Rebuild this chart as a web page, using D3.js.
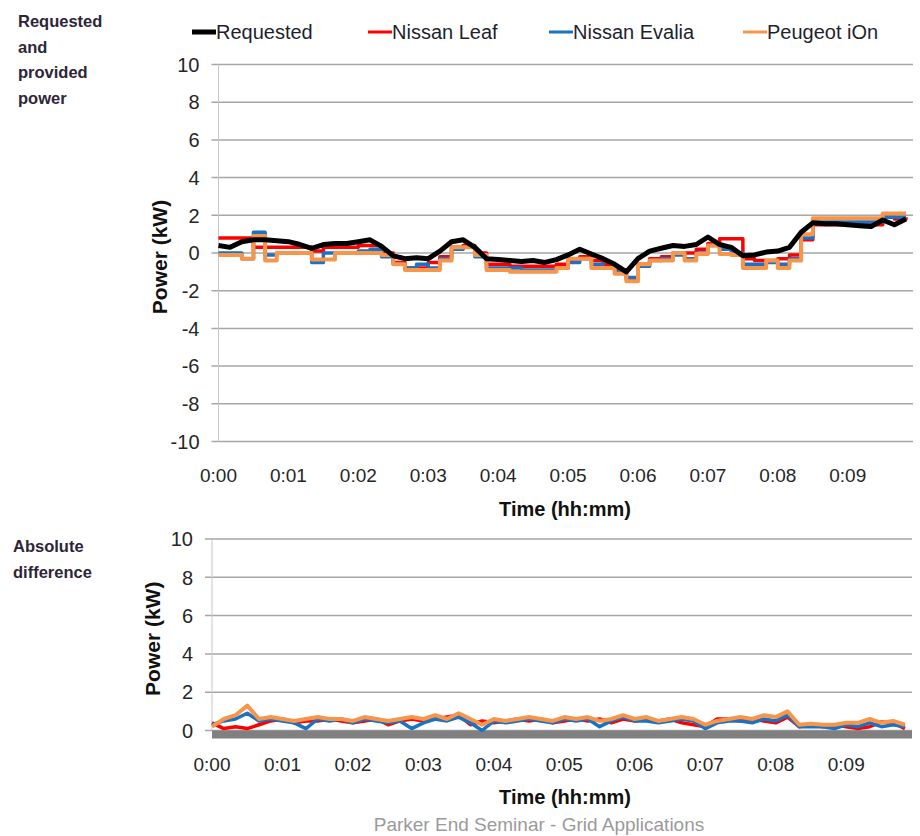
<!DOCTYPE html>
<html>
<head>
<meta charset="utf-8">
<script src="https://cdn.jsdelivr.net/npm/d3@7"></script>
<style>
  body { margin: 0; background: #fff; }
  svg { display: block; font-family: "Liberation Sans", Arial, sans-serif; }
</style>
</head>
<body>
<svg id="chart" width="920" height="836"></svg>
<script>
// one sample every 10 seconds
const stepSeconds = 10;

const requested = [0.4, 0.3, 0.6, 0.7, 0.7, 0.65, 0.6, 0.45, 0.25, 0.45,
  0.5, 0.5, 0.6, 0.7, 0.35, -0.15, -0.3, -0.25, -0.3, 0.1,
  0.6, 0.7, 0.3, -0.3, -0.35, -0.4, -0.45, -0.4, -0.5, -0.35,
  -0.1, 0.2, -0.05, -0.3, -0.6, -1.0, -0.3, 0.1, 0.25, 0.4,
  0.35, 0.45, 0.85, 0.45, 0.3, -0.15, -0.1, 0.05, 0.1, 0.3,
  1.1, 1.6, 1.55, 1.55, 1.5, 1.45, 1.4, 1.75, 1.5, 1.8];

const nissanLeaf = [0.8, 0.8, 0.8, 0.3, 0.3, 0.3, 0.3, 0.3, 0.1, 0.3,
  0.3, 0.3, 0.4, 0.4, 0.0, -0.5, -0.8, -0.8, -0.5, -0.2,
  0.3, 0.4, 0.0, -0.6, -0.6, -0.7, -0.7, -0.7, -0.7, -0.6,
  -0.4, -0.2, -0.4, -0.6, -0.9, -1.4, -0.6, -0.3, -0.2, 0.0,
  0.0, 0.2, 0.5, 0.75, 0.75, -0.3, -0.4, -0.4, -0.3, -0.1,
  0.7, 1.5, 1.5, 1.5, 1.5, 1.5, 1.5, 1.9, 1.8, 1.9];

const nissanEvalia = [0.0, 0.0, -0.3, 1.1, -0.1, 0.0, 0.0, 0.0, -0.5, 0.0,
  0.0, 0.0, 0.1, 0.2, -0.2, -0.6, -0.8, -0.6, -0.8, -0.3,
  0.2, 0.3, -0.2, -0.8, -0.8, -0.8, -0.9, -0.9, -0.9, -0.8,
  -0.5, -0.3, -0.6, -0.8, -1.0, -1.3, -0.7, -0.4, -0.3, -0.1,
  -0.3, 0.0, 0.4, 0.2, 0.0, -0.6, -0.6, -0.5, -0.6, -0.3,
  0.8, 1.65, 1.65, 1.65, 1.65, 1.65, 1.65, 1.9, 1.9, 1.9];

const peugeotIOn = [-0.1, -0.1, -0.3, 0.9, -0.4, 0.0, 0.0, 0.0, -0.35, -0.35,
  0.0, 0.0, 0.0, 0.0, -0.1, -0.6, -0.9, -0.9, -0.9, -0.4,
  0.3, 0.3, -0.1, -0.9, -0.9, -1.0, -1.0, -1.0, -1.0, -0.8,
  -0.3, -0.3, -0.8, -0.8, -1.1, -1.5, -0.6, -0.4, -0.4, 0.0,
  -0.4, -0.05, 0.4, -0.05, -0.1, -0.8, -0.8, -0.4, -0.8, -0.4,
  1.0, 1.85, 1.85, 1.85, 1.85, 1.85, 1.85, 2.1, 2.1, 2.1];

// absolute difference to the requested power
const diffLeaf = [0.4, 0.1, 0.2, 0.1, 0.3, 0.5, 0.6, 0.4, 0.5, 0.5,
  0.6, 0.5, 0.4, 0.5, 0.6, 0.3, 0.5, 0.6, 0.5, 0.6,
  0.7, 0.8, 0.3, 0.5, 0.4, 0.5, 0.6, 0.5, 0.6, 0.4,
  0.5, 0.6, 0.5, 0.6, 0.4, 0.6, 0.5, 0.6, 0.5, 0.6,
  0.4, 0.3, 0.2, 0.6, 0.6, 0.5, 0.6, 0.5, 0.4, 0.7,
  0.2, 0.3, 0.2, 0.3, 0.2, 0.1, 0.2, 0.45, 0.4, 0.1];

const diffEvalia = [0.3, 0.5, 0.6, 0.9, 0.5, 0.6, 0.5, 0.4, 0.1, 0.6,
  0.5, 0.6, 0.4, 0.6, 0.5, 0.4, 0.5, 0.1, 0.4, 0.6,
  0.5, 0.7, 0.4, 0.0, 0.5, 0.4, 0.5, 0.6, 0.5, 0.4,
  0.6, 0.5, 0.6, 0.2, 0.5, 0.7, 0.5, 0.5, 0.4, 0.5,
  0.6, 0.5, 0.1, 0.4, 0.5, 0.5, 0.4, 0.6, 0.5, 0.8,
  0.2, 0.2, 0.2, 0.1, 0.3, 0.2, 0.4, 0.2, 0.3, 0.2];

const diffIOn = [0.2, 0.6, 0.8, 1.3, 0.6, 0.7, 0.6, 0.5, 0.6, 0.7,
  0.6, 0.6, 0.5, 0.7, 0.6, 0.5, 0.6, 0.7, 0.6, 0.8,
  0.6, 0.9, 0.6, 0.3, 0.6, 0.5, 0.6, 0.7, 0.6, 0.5,
  0.7, 0.6, 0.7, 0.5, 0.6, 0.8, 0.6, 0.7, 0.5, 0.6,
  0.7, 0.6, 0.3, 0.5, 0.6, 0.7, 0.6, 0.8, 0.7, 1.0,
  0.3, 0.35, 0.3, 0.3, 0.4, 0.4, 0.6, 0.4, 0.5, 0.3];

const minuteTicks = [0, 1, 2, 3, 4, 5, 6, 7, 8, 9];
const topTicks = [-10, -8, -6, -4, -2, 0, 2, 4, 6, 8, 10];
const bottomTicks = [0, 2, 4, 6, 8, 10];

const series = [
  { name: 'Requested', color: '#000000', width: 5, top: requested },
  { name: 'Nissan Leaf', color: '#ff0000', width: 3.5, top: nissanLeaf, diff: diffLeaf },
  { name: 'Nissan Evalia', color: '#1a72c2', width: 3.5, top: nissanEvalia, diff: diffEvalia },
  { name: 'Peugeot iOn', color: '#f7964a', width: 4, top: peugeotIOn, diff: diffIOn }
];

const svg = d3.select('#chart');
const gridColor = '#a6a6a6';
const textColor = '#262626';
const fmtTime = m => `0:${String(m).padStart(2, '0')}`;

function panel(opt) {
  const x = d3.scaleLinear().domain([0, 596]).range([opt.left, opt.right]);
  const y = d3.scaleLinear().domain(opt.yDomain).range([opt.bottom, opt.top]);
  const g = svg.append('g');

  g.selectAll('.grid').data(opt.yTicks).enter().append('line')
    .attr('x1', opt.left - 7).attr('x2', opt.right)
    .attr('y1', d => y(d)).attr('y2', d => y(d))
    .attr('stroke', gridColor).attr('stroke-width', 1.5);

  g.append('line')
    .attr('x1', x(0)).attr('x2', x(0))
    .attr('y1', y(opt.yDomain[1])).attr('y2', y(opt.yDomain[0]))
    .attr('stroke', '#c8c8c8').attr('stroke-width', 1);

  g.selectAll('.ylab').data(opt.yTicks).enter().append('text')
    .attr('x', opt.left - 19).attr('y', d => y(d)).attr('dy', '0.36em')
    .attr('text-anchor', 'end').attr('font-size', 20).attr('fill', textColor)
    .text(d => d);

  g.selectAll('.xlab').data(minuteTicks).enter().append('text')
    .attr('x', d => x(d * 60)).attr('y', opt.tickBaseline)
    .attr('text-anchor', 'middle').attr('font-size', 19).attr('fill', textColor)
    .text(fmtTime);

  g.append('text')
    .attr('x', 565).attr('y', opt.titleBaseline)
    .attr('text-anchor', 'middle').attr('font-size', 20).attr('font-weight', 'bold')
    .attr('fill', '#111').text('Time (hh:mm)');

  g.append('text')
    .attr('transform', `translate(${opt.left - 52}, ${(y(opt.yDomain[0]) + y(opt.yDomain[1])) / 2 + 4}) rotate(-90)`)
    .attr('text-anchor', 'middle').attr('font-size', 21).attr('font-weight', 'bold')
    .attr('fill', '#111').text('Power (kW)');

  return { g, x, y };
}

// upper panel: requested and provided power
const p1 = panel({ left: 218.5, right: 913, top: 64.5, bottom: 441.5, yDomain: [-10, 10],
  yTicks: topTicks, tickBaseline: 482, titleBaseline: 516 });

const order1 = [series[1], series[2], series[3], series[0]];
order1.forEach(s => {
  const line = d3.line()
    .x((d, i) => p1.x(i * stepSeconds))
    .y(d => p1.y(d))
    .curve(s.name === 'Requested' ? d3.curveLinear : d3.curveStepAfter);
  p1.g.append('path')
    .datum(s.top)
    .attr('fill', 'none')
    .attr('stroke', s.color)
    .attr('stroke-width', s.width)
    .attr('stroke-linejoin', 'round')
    .attr('d', line);
});

// lower panel: absolute difference
const p2 = panel({ left: 212, right: 912, top: 539, bottom: 730.5, yDomain: [0, 10],
  yTicks: bottomTicks, tickBaseline: 771, titleBaseline: 804 });

p2.g.append('line')
  .attr('x1', p2.x(0)).attr('x2', 912)
  .attr('y1', p2.y(0) + 4).attr('y2', p2.y(0) + 4)
  .attr('stroke', '#808080').attr('stroke-width', 8);

series.slice(1).forEach(s => {
  const line = d3.line()
    .x((d, i) => p2.x(i * stepSeconds))
    .y(d => p2.y(d));
  p2.g.append('path')
    .datum(s.diff)
    .attr('fill', 'none')
    .attr('stroke', s.color)
    .attr('stroke-width', s.width)
    .attr('stroke-linejoin', 'round')
    .attr('d', line);
});

// legend
const legendX = [192, 368, 549, 743];
const legend = svg.append('g');
series.forEach((s, i) => {
  legend.append('line')
    .attr('x1', legendX[i]).attr('x2', legendX[i] + 24)
    .attr('y1', 32).attr('y2', 32)
    .attr('stroke', s.color).attr('stroke-width', i === 0 ? 5 : 3);
  legend.append('text')
    .attr('x', legendX[i] + 24).attr('y', 39)
    .attr('font-size', 20).attr('fill', '#1f1f2e')
    .text(s.name);
});

// side notes
const notes = [
  { x: 18, y: 27, lines: ['Requested', 'and', 'provided', 'power'] },
  { x: 13, y: 552, lines: ['Absolute', 'difference'] }
];
notes.forEach(n => {
  svg.append('text')
    .attr('x', n.x).attr('y', n.y)
    .attr('font-size', 16.5).attr('font-weight', 'bold').attr('fill', '#2e2638')
    .selectAll('tspan').data(n.lines).enter().append('tspan')
    .attr('x', n.x).attr('dy', (d, i) => i === 0 ? 0 : 25.7)
    .text(d => d);
});

svg.append('text')
  .attr('x', 539).attr('y', 831)
  .attr('text-anchor', 'middle').attr('font-size', 19).attr('fill', '#9a9a9a')
  .text('Parker End Seminar - Grid Applications');
</script>
</body>
</html>
